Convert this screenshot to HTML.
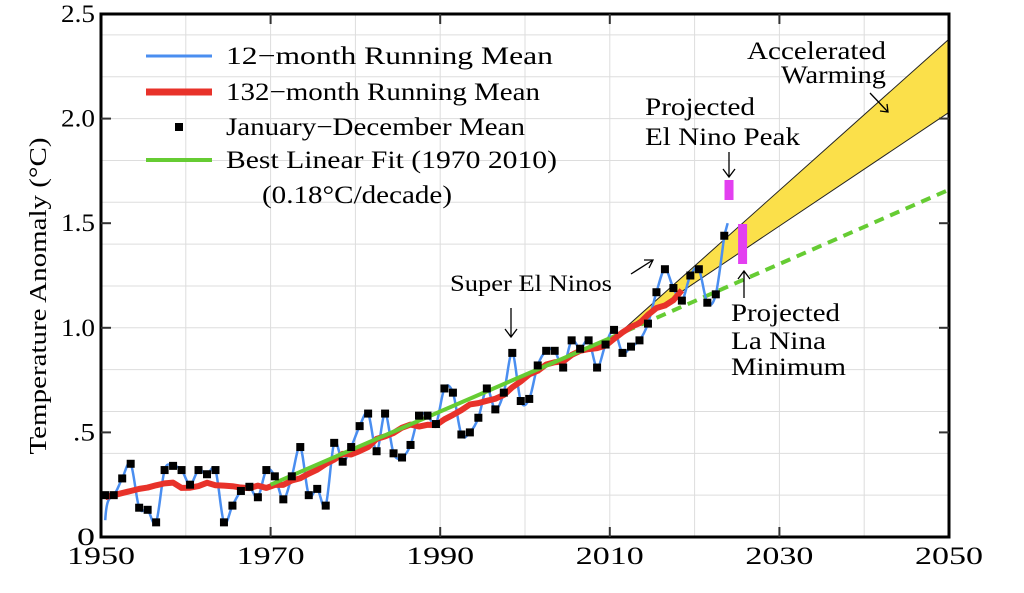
<!DOCTYPE html>
<html><head><meta charset="utf-8"><style>
html,body{margin:0;padding:0;background:#fff;}
svg{display:block;font-family:"Liberation Serif",serif;}
</style></head><body>
<svg id="s" width="1024" height="593" viewBox="0 0 1024 593"></svg>
<script>
const L=101,R=949,T=14,B=537;
const X=y=>L+(y-1950)*8.48, Y=v=>B-v*209.2;
const d=[0.2,0.2,0.28,0.35,0.14,0.13,0.07,0.32,0.34,0.32,0.25,0.32,0.3,0.32,0.07,0.15,0.22,0.24,0.19,0.32,0.29,0.18,0.29,0.43,0.2,0.23,0.15,0.45,0.36,0.43,0.53,0.59,0.41,0.59,0.4,0.38,0.44,0.58,0.58,0.54,0.71,0.69,0.49,0.5,0.57,0.71,0.61,0.69,0.88,0.65,0.66,0.82,0.89,0.89,0.81,0.94,0.9,0.94,0.81,0.92,0.99,0.88,0.91,0.94,1.02,1.17,1.28,1.19,1.13,1.25,1.28,1.12,1.16,1.44];
let h='';
for(let y=1960;y<2050;y+=10)h+=`<line x1="${X(y)}" y1="${T}" x2="${X(y)}" y2="${B}" stroke="#ddd" stroke-width="1"/>`;
for(let v=0.2;v<2.5;v+=0.2)h+=`<line x1="${L}" y1="${Y(v)}" x2="${R}" y2="${Y(v)}" stroke="#ddd" stroke-width="1"/>`;
const x0=X(2011),y0=Y(0.97);
h+=`<polygon points="${x0},${y0} ${R},${Y(2.38)} ${R},${Y(2.03)}" fill="#fbe04a" stroke="#222" stroke-width="1"/>`;
h+=`<line x1="${X(2010)}" y1="${Y(0.95)}" x2="${R}" y2="${Y(1.66)}" stroke="#6c3" stroke-width="4" stroke-dasharray="10,7"/>`;
let pts=d.map((v,i)=>[X(1950+i+0.5),Y(v)]);
let p='M'+pts[0][0]+','+(pts[0][1]+25);
for(let i=0;i<pts.length-1;i++){const a=pts[Math.max(0,i-1)],b=pts[i],c=pts[i+1],e=pts[Math.min(pts.length-1,i+2)];
p+=` C${b[0]+(c[0]-a[0])/6},${b[1]+(c[1]-a[1])/6} ${c[0]-(e[0]-b[0])/6},${c[1]-(e[1]-b[1])/6} ${c[0]},${c[1]}`;}
p+=` L${X(2023.9)},${Y(1.5)}`;
h+=`<path d="${p}" fill="none" stroke="#4a8ef0" stroke-width="2.5"/>`;
let rp='';
for(let i=0;i<=68;i++){let s=0,n=0;for(let k=i-5;k<=i+5;k++){if(k>=0&&k<d.length){s+=d[k];n++;}}let v=s/n;if(i<5)v=0.19+i*0.01;rp+=(i?'L':'M')+X(1950+i+0.5)+','+Y(v);}
h+=`<path d="${rp}" fill="none" stroke="#e8322a" stroke-width="6" stroke-linejoin="round"/>`;
h+=`<line x1="${X(1970)}" y1="${Y(0.25)}" x2="${X(2010)}" y2="${Y(0.95)}" stroke="#6c3" stroke-width="4"/>`;
pts.forEach(q=>h+=`<rect x="${q[0]-4}" y="${q[1]-4}" width="8" height="8" fill="#000"/>`);
h+=`<rect x="${X(2024)-4}" y="180" width="9" height="20" fill="#e33ff0"/>`;
h+=`<rect x="${X(2025.6)-4}" y="224" width="9" height="40" fill="#e33ff0"/>`;
h+=`<rect x="${L}" y="${T}" width="${R-L}" height="${B-T}" fill="none" stroke="#000" stroke-width="3"/>`;
for(let y=1970;y<2050;y+=20){h+=`<line x1="${X(y)}" y1="${B}" x2="${X(y)}" y2="${B-10}" stroke="#333" stroke-width="2"/><line x1="${X(y)}" y1="${T}" x2="${X(y)}" y2="${T+10}" stroke="#333" stroke-width="2"/>`;}
for(let v=0.5;v<2.5;v+=0.5){h+=`<line x1="${L}" y1="${Y(v)}" x2="${L+10}" y2="${Y(v)}" stroke="#333" stroke-width="2"/><line x1="${R}" y1="${Y(v)}" x2="${R-10}" y2="${Y(v)}" stroke="#333" stroke-width="2"/>`;}
const tx=(x,y,t,w,s=25,anc='start')=>h+=`<text x="${x}" y="${y}" font-size="${s}" text-anchor="${anc}" textLength="${w}" lengthAdjust="spacingAndGlyphs">${t}</text>`;
[1950,1970,1990,2010,2030,2050].forEach(a=>tx(X(a)-34,564,a,68,25));
[['0',0,18],['.5',0.5,22],['1.0',1,34],['1.5',1.5,34],['2.0',2,34],['2.5',2.5,34]].forEach(a=>tx(95-a[2],Y(a[1])+8,a[0],a[2],25));
h+=`<text transform="translate(46,296) rotate(-90)" font-size="24" text-anchor="middle" textLength="317" lengthAdjust="spacingAndGlyphs">Temperature Anomaly (°C)</text>`;
const lg=[['#4a8ef0',3,'12−month Running Mean',56,327],['#e8322a',7,'132−month Running Mean',92,314],[null,0,'January−December Mean',127,299],['#6c3',4,'Best Linear Fit (1970  2010)',160,331]];
lg.forEach(a=>{if(a[0])h+=`<line x1="146" y1="${a[3]}" x2="212" y2="${a[3]}" stroke="${a[0]}" stroke-width="${a[1]}"/>`;else h+=`<rect x="175" y="${a[3]-4}" width="8" height="8" fill="#000"/>`;tx(226,a[3]+8,a[2],a[4]);});
tx(262,203,'(0.18°C/decade)',190);
tx(450,291,'Super El Ninos',162,23);
h+=`<path d="M511 308 V336 M505 329 L511 337 L517 329" stroke="#000" fill="none" stroke-width="1.3"/>`;
h+=`<path d="M631 274 L653 260 M644 260 L653 260 L649 268" stroke="#000" fill="none" stroke-width="1.3"/>`;
tx(645,115,'Projected',110);tx(645,145,'El Nino Peak',155);
h+=`<path d="M729 152 V176 M723 169 L729 177 L735 169" stroke="#000" fill="none" stroke-width="1.3"/>`;
tx(747,59,'Accelerated',139);tx(781,83,'Warming',105);
h+=`<path d="M870 93 L888 112 M880 111 L888 112 L887 104" stroke="#000" fill="none" stroke-width="1.3"/>`;
h+=`<path d="M744 272 V298 M738 279 L744 271 L750 279" stroke="#000" fill="none" stroke-width="1.3"/>`;
tx(731,321,'Projected',109);tx(731,349,'La Nina',95);tx(731,375,'Minimum',115);
document.getElementById('s').innerHTML=h;
</script>
</body></html>
